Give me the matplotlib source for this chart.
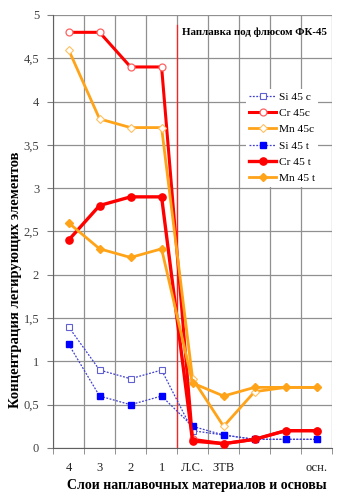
import matplotlib
matplotlib.use("Agg")
import matplotlib.pyplot as plt
import numpy as np

plt.rcParams['font.family'] = ['Liberation Serif', 'DejaVu Serif']

categories = ["4", "3", "2", "1", "Л.С.", "ЗТВ", "", "", "осн."]
si_c = [1.4, 0.9, 0.8, 0.9, 0.2, 0.15, 0.1, 0.1, 0.1]
cr_c = [4.8, 4.8, 4.4, 4.4, 0.1, 0.05, 0.1, 0.2, 0.2]
mn_c = [4.6, 3.8, 3.7, 3.7, 0.8, 0.25, 0.65, 0.7, 0.7]
si_t = [1.2, 0.6, 0.5, 0.6, 0.25, 0.15, 0.1, 0.1, 0.1]
cr_t = [2.4, 2.8, 2.9, 2.9, 0.08, 0.05, 0.1, 0.2, 0.2]
mn_t = [2.6, 2.3, 2.2, 2.3, 0.75, 0.6, 0.7, 0.7, 0.7]
yticks = [0, 0.5, 1, 1.5, 2, 2.5, 3, 3.5, 4, 4.5, 5]
ytick_labels = ["0", "0,5", "1", "1,5", "2", "2,5", "3", "3,5", "4", "4,5", "5"]

fig = plt.figure(figsize=(3.61, 5.0), dpi=100)
ax = fig.add_axes([0.147, 0.104, 0.773, 0.866])

x = np.arange(len(categories)) + 0.5
blue = "#0000FF"
red = "#FF0000"
orange = "#FFA319"

ax.plot(x, si_c, linestyle=(0, (1.5, 1.2)), color="#4040D0", lw=0.9, marker="s",
        ms=4.2, mfc="white", mec="#6060D0", mew=0.8, label="Si 45 c", zorder=3)
ax.plot(x, cr_c, color=red, lw=2.2, marker="o", ms=5, mfc="white", mec="#FF6060",
        mew=0.9, label="Cr 45c", zorder=3)
ax.plot(x, mn_c, color=orange, lw=2.0, marker="D", ms=3.8, mfc="white", mec="#FFC060",
        mew=0.8, label="Mn 45c", zorder=3)
ax.plot(x, si_t, linestyle=(0, (1.5, 1.2)), color="#4040D0", lw=0.9, marker="s",
        ms=4.2, mfc=blue, mec=blue, label="Si 45 t", zorder=4)
ax.plot(x, cr_t, color=red, lw=2.4, marker="o", ms=5.2, mfc=red, mec=red,
        label="Cr 45 t", zorder=4)
ax.plot(x, mn_t, color=orange, lw=2.0, marker="D", ms=3.8, mfc=orange, mec=orange,
        label="Mn 45 t", zorder=4)

ax.set_xlim(0, len(categories))
ax.set_ylim(0, 5)
ax.set_yticks(yticks)
ax.set_yticklabels(ytick_labels, fontsize=9, color="#404040")
ax.set_xticks(x)
ax.set_xticklabels(categories, fontsize=9, color="#202020")
ax.tick_params(axis='x', length=0, pad=10)
ax.set_xticks(np.arange(0, len(categories) + 1), minor=True)
ax.tick_params(axis='x', which='minor', length=4, color="#808080")
ax.tick_params(axis='y', length=4, color="#808080", pad=6)
ax.grid(True, which='minor', axis='x', color="#909090", lw=0.9)
ax.grid(True, which='major', axis='y', color="#909090", lw=0.9)
for s in ["top", "right"]:
    ax.spines[s].set_visible(False)
ax.spines["left"].set_color("#606060")
ax.spines["bottom"].set_color("#606060")
ax.set_axisbelow(True)

ax.plot([4, 4], [0, 4.88], color="#FF2020", lw=0.9, zorder=2)

ax.text(0.98, 0.96, "Наплавка под флюсом ФК-45", transform=ax.transAxes,
        ha="right", va="center", fontsize=7.8, fontweight="bold")

leg = ax.legend(loc="upper left", bbox_to_anchor=(0.69, 0.83), frameon=True,
                fontsize=8.2, handlelength=2.4, labelspacing=0.55, borderpad=0.3,
                handletextpad=0.2, borderaxespad=0)
leg.get_frame().set_edgecolor("none")
leg.get_frame().set_facecolor("white")
leg.get_frame().set_alpha(1)

fig.text(0.042, 0.44, "Концентрация легирующих элементов", rotation=90,
         ha="center", va="center", fontsize=10.5, fontweight="bold")
fig.text(0.545, 0.03, "Слои наплавочных материалов и основы",
         ha="center", va="center", fontsize=10, fontweight="bold")

fig.savefig("out.png", dpi=100)
